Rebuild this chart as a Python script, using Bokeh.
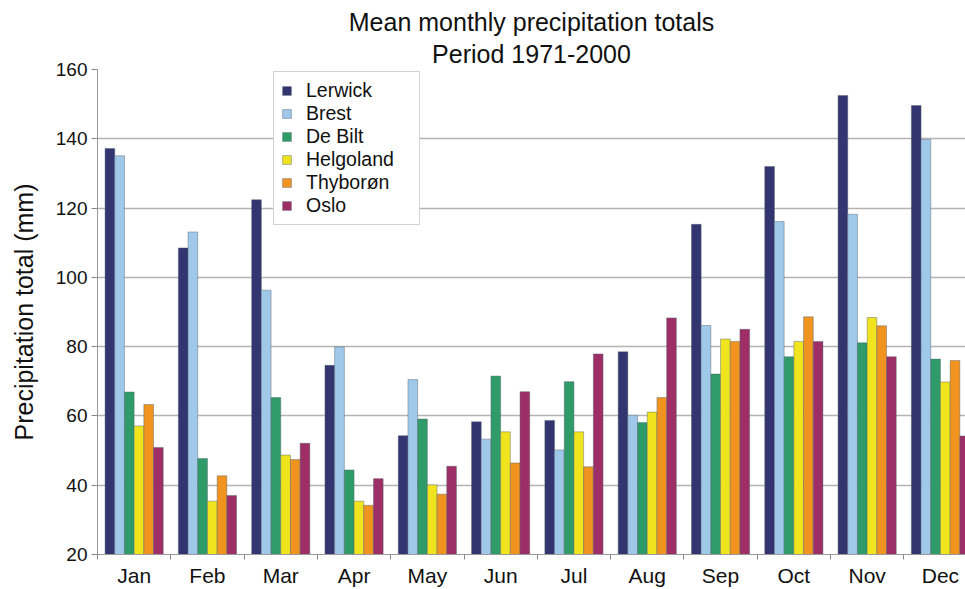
from bokeh.plotting import figure
from bokeh.models import (Range1d, FixedTicker, Legend, LegendItem, Title,
                          ColumnDataSource)
from bokeh.transform import dodge
from bokeh.embed import file_html
from bokeh.resources import INLINE

# ---------------- data ----------------
months = ["Jan", "Feb", "Mar", "Apr", "May", "Jun",
          "Jul", "Aug", "Sep", "Oct", "Nov", "Dec"]
stations = ["Lerwick", "Brest", "De Bilt", "Helgoland", "Thyborøn", "Oslo"]
lerwick = [137.2, 108.5, 122.4, 74.6, 54.3, 58.3, 58.7, 78.5, 115.3, 132.0, 152.5, 149.6]
brest = [135.1, 113.1, 96.3, 79.9, 70.5, 53.3, 50.2, 60.2, 86.1, 116.1, 118.2, 139.8]
de_bilt = [66.9, 47.7, 65.3, 44.4, 59.1, 71.5, 69.9, 58.1, 72.1, 77.1, 81.1, 76.4]
helgoland = [57.1, 35.4, 48.7, 35.4, 40.1, 55.4, 55.4, 61.1, 82.2, 81.5, 88.4, 69.8]
thyboron = [63.3, 42.7, 47.4, 34.2, 37.4, 46.4, 45.3, 65.3, 81.5, 88.6, 86.0, 76.0]
oslo = [50.9, 37.0, 52.1, 41.9, 45.5, 67.0, 77.9, 88.3, 85.0, 81.5, 77.1, 54.2]
y_ticks = [20, 40, 60, 80, 100, 120, 140, 160]

colors = ["#32356f", "#9fc8e9", "#2f9b68", "#efe41e", "#f0931f", "#9d2f66"]
series = [lerwick, brest, de_bilt, helgoland, thyboron, oslo]
keys = ["s0", "s1", "s2", "s3", "s4", "s5"]

month_pos = list(range(1, len(months) + 1))
data = {"x": month_pos}
for k, s in zip(keys, series):
    data[k] = s
source = ColumnDataSource(data)

FONT = "Liberation Sans"

p = figure(width=965, height=589, output_backend="svg", toolbar_location=None,
           x_range=Range1d(0.5, 0.5 + 868 / 73.3), y_range=Range1d(20, 160),
           title="Mean monthly precipitation totals",
           min_border_left=97, min_border_right=0, min_border_top=69,
           min_border_bottom=31)
p.outline_line_color = None
p.background_fill_color = "white"
p.border_fill_color = "white"

p.title.align = "center"
p.title.text_font = FONT
p.title.text_font_size = "25px"
p.title.text_font_style = "normal"
p.title.text_color = "#111111"
p.title.standoff = 0
p.add_layout(Title(text="Period 1971-2000", align="center",
                   text_font=FONT, text_font_size="25px",
                   text_font_style="normal", text_color="#111111",
                   standoff=4), "above")

bar_w = 0.1323
renderers = []
for i, (k, c) in enumerate(zip(keys, colors)):
    off = (i - 2.5) * bar_w
    r = p.vbar(x=dodge("x", off, range=p.x_range), top=k, bottom=20,
               width=bar_w, source=source, fill_color=c,
               line_color="#55606e", line_alpha=0.55, line_width=0.8)
    renderers.append(r)

# axes
p.xaxis.ticker = FixedTicker(ticks=month_pos,
                             minor_ticks=[m - 0.5 for m in month_pos] + [len(months) + 0.5])
p.xaxis.major_label_overrides = {m: lab for m, lab in zip(month_pos, months)}
p.xaxis.major_tick_line_color = None
p.xaxis.minor_tick_line_color = "#888888"
p.xaxis.minor_tick_out = 5
p.xaxis.minor_tick_in = 0
p.xaxis.axis_line_color = "#999999"
p.xaxis.major_label_text_font = FONT
p.xaxis.major_label_text_font_size = "21px"
p.xaxis.major_label_text_color = "#111111"
p.xaxis.major_label_standoff = 3

p.yaxis.ticker = FixedTicker(ticks=y_ticks)
p.yaxis.minor_tick_line_color = None
p.yaxis.major_tick_line_color = "#888888"
p.yaxis.major_tick_out = 6
p.yaxis.major_tick_in = 0
p.yaxis.axis_line_color = "#999999"
p.yaxis.major_label_text_font = FONT
p.yaxis.major_label_text_font_size = "19px"
p.yaxis.major_label_text_color = "#111111"
p.yaxis.major_label_standoff = 4
p.yaxis.axis_label = "Precipitation total (mm)"
p.yaxis.axis_label_text_font = FONT
p.yaxis.axis_label_text_font_size = "25px"
p.yaxis.axis_label_text_font_style = "normal"
p.yaxis.axis_label_text_color = "#111111"
p.yaxis.axis_label_standoff = 15

p.xgrid.grid_line_color = None
p.ygrid.grid_line_color = "#b4b4b4"
p.ygrid.grid_line_width = 1.5

legend = Legend(items=[LegendItem(label=s, renderers=[r]) for s, r in zip(stations, renderers)],
                location=(176, 329), padding=7, spacing=0,
                glyph_width=11, glyph_height=11, label_standoff=14,
                label_text_font=FONT, label_text_font_size="19.5px",
                label_text_color="#111111", label_height=20, label_width=106,
                border_line_color="#a8a8a8", border_line_width=1,
                background_fill_color="white", background_fill_alpha=1.0)
p.add_layout(legend)

open("out.html", "w").write(file_html(p, INLINE))
